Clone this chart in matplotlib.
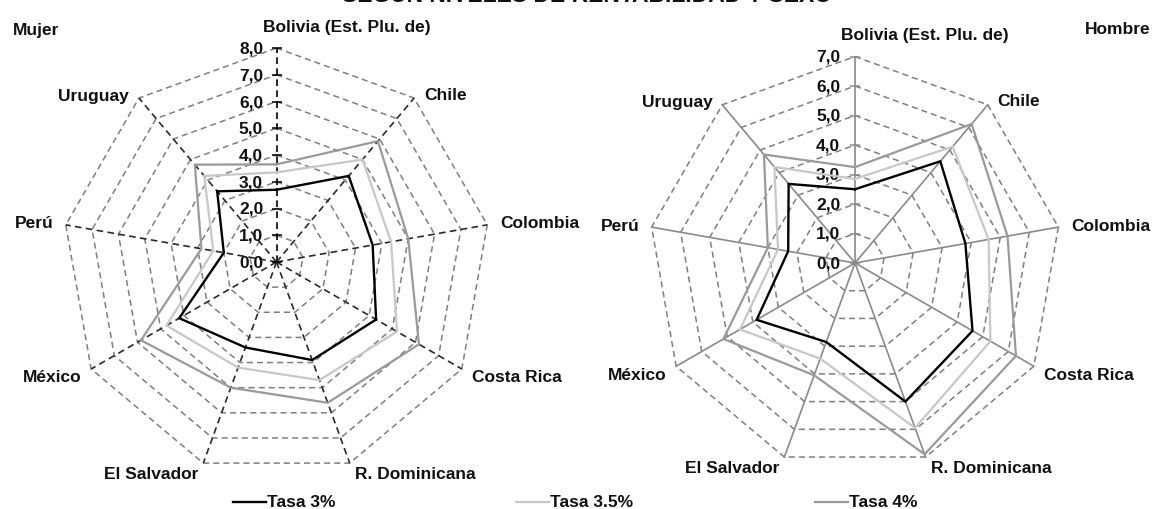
import numpy as np
import matplotlib
matplotlib.use("Agg")
import matplotlib.pyplot as plt
from matplotlib.lines import Line2D

# ---- data -------------------------------------------------------------
categories = ["Bolivia (Est. Plu. de)", "Chile", "Colombia", "Costa Rica",
              "R. Dominicana", "El Salvador", "México", "Perú", "Uruguay"]
series_names = ["Tasa 3%", "Tasa 3.5%", "Tasa 4%"]

mujer_tasa3 = [2.7, 4.2, 3.65, 4.3, 3.9, 3.4, 4.2, 2.0, 3.45]
mujer_tasa35 = [3.35, 5.0, 4.35, 5.2, 4.7, 4.2, 4.75, 2.4, 4.2]
mujer_tasa4 = [3.65, 5.9, 5.0, 6.15, 5.6, 5.0, 5.85, 2.85, 4.75]

hombre_tasa3 = [2.5, 4.5, 3.8, 4.6, 5.0, 2.85, 3.85, 2.3, 3.5]
hombre_tasa35 = [2.85, 5.15, 4.6, 5.3, 5.95, 3.45, 4.5, 2.65, 4.25]
hombre_tasa4 = [3.25, 6.15, 5.25, 6.3, 6.9, 4.05, 5.15, 3.0, 4.8]

mujer_max = 8
hombre_max = 7

# ---- style ------------------------------------------------------------
FONT = "Liberation Sans"
FS = 12.5
series_colors = ["#000000", "#c8c8c8", "#9a9a9a"]
series_lw = [1.7, 1.6, 1.6]
grid_color = "#7f7f7f"
dash = (0, (4, 2.6))

W, H = 1156, 510
fig = plt.figure(figsize=(W / 100, H / 100), dpi=100)


def place_axes(x0, x1, cx, cy, unit):
    """Axes spanning pixel columns x0..x1 with the radar centre at (cx, cy) px (from top)."""
    ax = fig.add_axes([x0 / W, 0, (x1 - x0) / W, 1])
    ax.set_xlim(-(cx - x0) / unit, (x1 - cx) / unit)
    ax.set_ylim(-(H - cy) / unit, cy / unit)
    ax.axis("off")
    return ax


n = len(categories)
theta = np.pi / 2 - np.arange(n) * 2 * np.pi / n


def xy(values):
    v = np.asarray(values, dtype=float)
    x = v * np.cos(theta)
    y = v * np.sin(theta)
    return np.append(x, x[0]), np.append(y, y[0])


# label offsets in pixels (dx, dy), one per category direction
label_offsets = [(-14, 0), (10, 4), (13, 2), (10, -8), (5, -10),
                 (-5, -10), (-10, -8), (-12, 2), (-10, 3)]


def radar(ax, series, vmax, spoke_style, spoke_color, axis_color, title_x_pad):
    # polygonal gridlines
    for lvl in range(1, vmax + 1):
        gx, gy = xy([lvl] * n)
        ax.plot(gx, gy, color=grid_color, lw=1.1, linestyle=dash, zorder=1)
    # spokes
    for i in range(n):
        col = axis_color if i == 0 else spoke_color
        ax.plot([0, vmax * np.cos(theta[i])], [0, vmax * np.sin(theta[i])],
                color=col, lw=1.2, linestyle=spoke_style, zorder=2)
    # value axis ticks and labels
    levels = np.arange(0, vmax + 1)
    ax.plot(np.zeros_like(levels), levels, ls="none", marker="_", ms=7,
            mew=1.1, color=axis_color, zorder=2)
    for lvl in levels:
        ax.text(-0.5, lvl, f"{lvl:.1f}".replace(".", ","), ha="right",
                va="center", fontsize=FS, fontweight="bold", family=FONT,
                color="#111111")
    # series
    for vals, c, lw in zip(series, series_colors, series_lw):
        sx, sy = xy(vals)
        ax.plot(sx, sy, color=c, lw=lw, zorder=3, solid_joinstyle="miter")
    # category labels
    for i, name in enumerate(categories):
        tx, ty = vmax * np.cos(theta[i]), vmax * np.sin(theta[i])
        dx, dy = label_offsets[i]
        if i == 0:
            ha, va = "left", "bottom"
            dx, dy = title_x_pad, 14
        else:
            ha = "left" if np.cos(theta[i]) > 0 else "right"
            va = "center"
        ax.annotate(name, (tx, ty), xytext=(dx, dy), textcoords="offset pixels",
                    ha=ha, va=va, fontsize=FS, fontweight="bold", family=FONT,
                    color="#111111", annotation_clip=False)


ax_m = place_axes(0, 578, 276.5, 263, 26.75)
radar(ax_m, [mujer_tasa3, mujer_tasa35, mujer_tasa4], mujer_max,
      dash, "#2a2a2a", "#000000", -14)

ax_h = place_axes(578, 1156, 855, 264, 29.5)
radar(ax_h, [hombre_tasa3, hombre_tasa35, hombre_tasa4], hombre_max,
      "-", "#8a8a8a", "#8a8a8a", -14)

# panel titles
fig.text(13 / W, 1 - 30 / H, "Mujer", ha="left", va="center", fontsize=FS,
         fontweight="bold", family=FONT, color="#111111")
fig.text(1085 / W, 1 - 30 / H, "Hombre", ha="left", va="center", fontsize=FS,
         fontweight="bold", family=FONT, color="#111111")

# heading, running off the top edge of the page
fig.text(587 / W, 1 - 1.5 / H, "SEGÚN NIVELES DE RENTABILIDAD Y SEXO",
         ha="center", va="baseline", fontsize=16.5, fontweight="bold",
         family=FONT, color="#111111")

# legend
leg_x = [233, 516, 815]
leg_y = 1 - 503 / H
for name, c, lw, x0 in zip(series_names, series_colors, series_lw, leg_x):
    fig.add_artist(Line2D([x0 / W, (x0 + 33) / W], [leg_y, leg_y],
                          color=c, lw=lw, transform=fig.transFigure))
    fig.text((x0 + 34) / W, leg_y, name, ha="left", va="center", fontsize=FS,
             fontweight="bold", family=FONT, color="#111111")

fig.savefig("out.png", dpi=100, facecolor="white")
